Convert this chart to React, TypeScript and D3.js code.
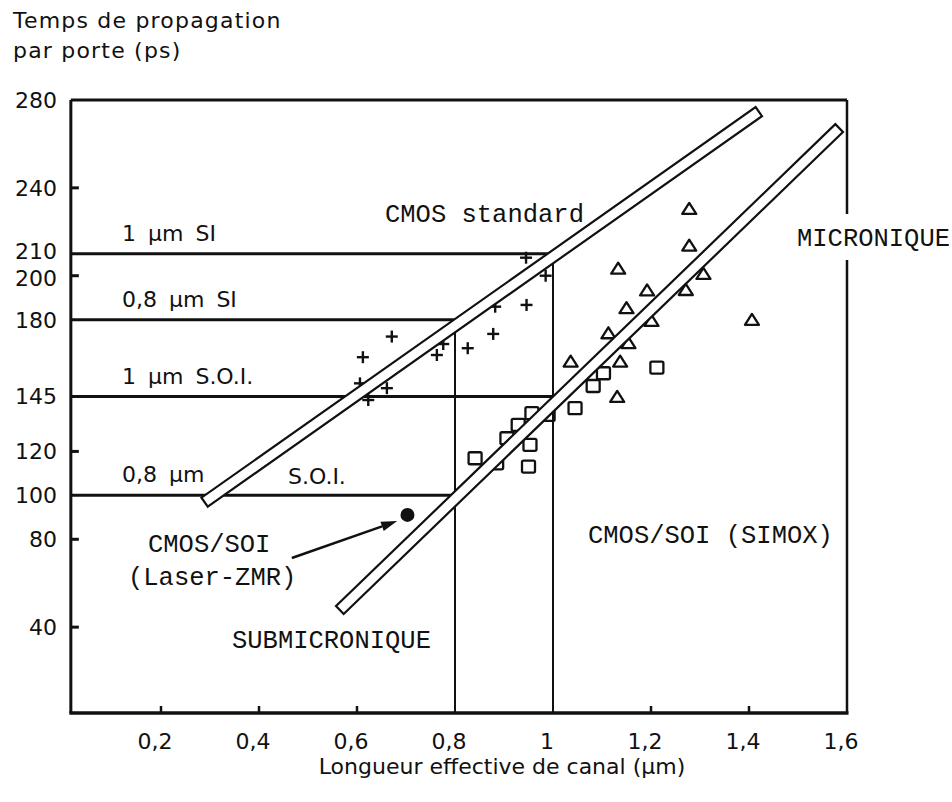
import React from "react";
import * as d3 from "d3";

// ---- Data ----
const xTickValues = [0.2, 0.4, 0.6, 0.8, 1.0, 1.2, 1.4, 1.6];
const xTickLabels = ["0,2", "0,4", "0,6", "0,8", "1", "1,2", "1,4", "1,6"];
const xMinorTicks = [0.2, 0.4, 0.6, 1.2, 1.4];
const yTickValues = [40, 80, 100, 120, 145, 180, 200, 210, 240, 280];
const yMinorTicks = [40, 80, 120, 200, 240];

// horizontal design rules: [delay ps, channel length limit µm]
const ruleDelays = [210, 180, 145, 100];
const ruleLimits = [1.0, 0.8, 1.0, 0.8];
const ruleLabels = ["1 µm SI", "0,8 µm SI", "1 µm S.O.I.", "0,8 µm"];

// CMOS standard (+)
const crossX = [0.612, 0.671, 0.606, 0.661, 0.623, 0.763, 0.776, 0.826, 0.878, 0.882, 0.946, 0.945, 0.985];
const crossY = [162.9, 172.3, 151.0, 148.8, 143.4, 163.9, 168.9, 167.0, 173.5, 185.9, 186.7, 208.2, 200.0];

// squares
const squareX = [0.841, 0.885, 0.95, 0.953, 0.906, 0.929, 0.957, 0.99, 1.045, 1.082, 1.103, 1.212];
const squareY = [116.9, 114.6, 113.1, 123.0, 126.0, 132.1, 137.4, 136.6, 139.7, 149.8, 155.6, 158.2];

// triangles
const triX = [1.278, 1.278, 1.133, 1.307, 1.192, 1.271, 1.15, 1.201, 1.406, 1.113, 1.154, 1.036, 1.137, 1.131];
const triY = [230.4, 213.7, 203.2, 200.8, 193.3, 193.5, 185.2, 179.4, 179.9, 173.8, 169.3, 160.9, 160.9, 144.8];

// Laser-ZMR point
const laserPoint = [0.703, 91.1];
const arrowTail = [0.467, 71.5];
const arrowHead = [0.682, 88.3];

// trend bands [x1, y1, x2, y2]
const bandStandard = [0.289, 96.9, 1.42, 274.7];
const bandSOI = [0.565, 47.8, 1.584, 267.2];

export default function App() {
  const W = 952, H = 802;
  const x = d3.scaleLinear().domain([0, 1.6]).range([63, 847]);
  const y = d3.scaleLinear().domain([0, 280]).range([715, 100]);

  const left = x(0.016);
  const right = x(1.6);
  const top = y(280);
  const bottom = y(0.9);

  const ink = "#111";
  const sans = "'DejaVu Sans', sans-serif";
  const mono = "'Liberation Mono', monospace";

  // y tick label positions, spread apart when too close
  const sortedTicks = [...yTickValues].sort((a, b) => a - b);
  const labelPos: Record<number, number> = {};
  sortedTicks.forEach((v) => (labelPos[v] = y(v)));
  const minGap = 27;
  for (let i = 1; i < sortedTicks.length; i++) {
    const lo = sortedTicks[i - 1], hi = sortedTicks[i];
    const gap = labelPos[lo] - labelPos[hi];
    if (gap < minGap) {
      const push = (minGap - gap) / 2;
      labelPos[lo] += push;
      labelPos[hi] -= push;
    }
  }

  const band = (b: number[]) => {
    const x1 = x(b[0]), y1 = y(b[1]), x2 = x(b[2]), y2 = y(b[3]);
    const dx = x2 - x1, dy = y2 - y1;
    const len = Math.hypot(dx, dy);
    const h = 5.5;
    const nx = (-dy / len) * h, ny = (dx / len) * h;
    const pts = [
      [x1 + nx, y1 + ny],
      [x2 + nx, y2 + ny],
      [x2 - nx, y2 - ny],
      [x1 - nx, y1 - ny],
    ];
    return pts.map((p) => p.join(",")).join(" ");
  };

  // arrow head geometry
  const ax1 = x(arrowTail[0]), ay1 = y(arrowTail[1]);
  const ax2 = x(arrowHead[0]), ay2 = y(arrowHead[1]);
  const ang = Math.atan2(ay2 - ay1, ax2 - ax1);
  const hl = 16, hw = 5;
  const bx = ax2 - hl * Math.cos(ang), by = ay2 - hl * Math.sin(ang);
  const headPts = [
    [ax2, ay2],
    [bx + hw * Math.sin(ang), by - hw * Math.cos(ang)],
    [bx - hw * Math.sin(ang), by + hw * Math.cos(ang)],
  ]
    .map((p) => p.join(","))
    .join(" ");

  return (
    <svg
      width={W}
      height={H}
      style={{ position: "absolute", left: 0, top: 0, background: "#fff" }}
    >
      <rect x={0} y={0} width={W} height={H} fill="#fff" />

      {/* Axis title (y) */}
      <text x={13} y={28} fontFamily={sans} fontSize={22} letterSpacing={1.2} fill={ink}>
        Temps de propagation
      </text>
      <text x={13} y={58} fontFamily={sans} fontSize={22} letterSpacing={1.2} fill={ink}>
        par porte (ps)
      </text>

      {/* y tick labels */}
      {yTickValues.map((v) => (
        <text
          key={"yt" + v}
          x={57}
          y={labelPos[v]}
          dy="0.36em"
          textAnchor="end"
          fontFamily={sans}
          fontSize={22}
          fill={ink}
        >
          {v}
        </text>
      ))}
      {yMinorTicks.map((v) => (
        <line key={"ym" + v} x1={left} x2={left + 8} y1={y(v)} y2={y(v)} stroke={ink} strokeWidth={3} />
      ))}

      {/* x tick labels */}
      {xTickValues.map((v, i) => (
        <text
          key={"xt" + v}
          x={x(v) - 6}
          y={749}
          textAnchor="middle"
          fontFamily={sans}
          fontSize={22}
          fill={ink}
        >
          {xTickLabels[i]}
        </text>
      ))}
      {xMinorTicks.map((v) => (
        <line key={"xm" + v} x1={x(v)} x2={x(v)} y1={bottom} y2={bottom - 7} stroke={ink} strokeWidth={2.5} />
      ))}

      <text x={502} y={774} textAnchor="middle" fontFamily={sans} fontSize={22} fill={ink}>
        Longueur effective de canal (µm)
      </text>

      {/* rule lines */}
      {ruleDelays.map((d, i) => (
        <line key={"rh" + d} x1={left} x2={x(ruleLimits[i])} y1={y(d)} y2={y(d)} stroke={ink} strokeWidth={3} />
      ))}
      <line x1={x(1.0)} x2={x(1.0)} y1={y(210)} y2={bottom} stroke={ink} strokeWidth={2} />
      <line x1={x(0.8)} x2={x(0.8)} y1={y(180)} y2={bottom} stroke={ink} strokeWidth={2} />

      {/* rule labels */}
      {ruleLabels.map((t, i) => (
        <text
          key={"rl" + i}
          x={122}
          y={y(ruleDelays[i]) - 13}
          fontFamily={sans}
          fontSize={22}
          wordSpacing={5}
          fill={ink}
        >
          {t}
        </text>
      ))}
      <text x={288} y={y(100) - 11} fontFamily={sans} fontSize={22} fill={ink}>
        S.O.I.
      </text>

      {/* frame */}
      <line x1={left} x2={left} y1={top} y2={bottom} stroke={ink} strokeWidth={3} />
      <line x1={left - 1.5} x2={right + 1.5} y1={bottom} y2={bottom} stroke={ink} strokeWidth={3.5} />
      <line x1={left} x2={right} y1={top} y2={top} stroke={ink} strokeWidth={3} />
      <line x1={right} x2={right} y1={top} y2={bottom} stroke={ink} strokeWidth={2.5} />

      {/* markers */}
      {crossX.map((cx, i) => {
        const px = x(cx), py = y(crossY[i]);
        return (
          <g key={"c" + i} stroke={ink} strokeWidth={2.4}>
            <line x1={px - 6} x2={px + 6} y1={py} y2={py} />
            <line x1={px} x2={px} y1={py - 6} y2={py + 6} />
          </g>
        );
      })}
      {squareX.map((sx, i) => (
        <rect
          key={"s" + i}
          x={x(sx) - 6.5}
          y={y(squareY[i]) - 6}
          width={13}
          height={12}
          rx={1.5}
          fill="none"
          stroke={ink}
          strokeWidth={2.3}
        />
      ))}
      {triX.map((tx, i) => {
        const px = x(tx), py = y(triY[i]);
        return (
          <polygon
            key={"t" + i}
            points={`${px},${py - 6} ${px + 7},${py + 5} ${px - 7},${py + 5}`}
            fill="none"
            stroke={ink}
            strokeWidth={2.3}
            strokeLinejoin="round"
          />
        );
      })}

      {/* trend bands */}
      <polygon points={band(bandStandard)} fill="#fff" stroke={ink} strokeWidth={2.2} strokeLinejoin="miter" />
      <polygon points={band(bandSOI)} fill="#fff" stroke={ink} strokeWidth={2.2} strokeLinejoin="miter" />

      {/* Laser-ZMR point and arrow */}
      <circle cx={x(laserPoint[0])} cy={y(laserPoint[1])} r={7} fill={ink} />
      <line x1={ax1} y1={ay1} x2={bx} y2={by} stroke={ink} strokeWidth={2.5} />
      <polygon points={headPts} fill={ink} />

      {/* monospace annotations */}
      <text x={385} y={222} fontFamily={mono} fontSize={25.5} fill={ink}>
        CMOS standard
      </text>
      <rect x={right - 8} y={214} width={20} height={46} fill="#fff" />
      <text x={797} y={246} fontFamily={mono} fontSize={25.5} fill={ink}>
        MICRONIQUE
      </text>
      <text x={588} y={543} fontFamily={mono} fontSize={25.5} fill={ink}>
        CMOS/SOI (SIMOX)
      </text>
      <text x={148} y={552} fontFamily={mono} fontSize={25.5} fill={ink}>
        CMOS/SOI
      </text>
      <text x={128} y={585} fontFamily={mono} fontSize={25.5} fill={ink}>
        (Laser-ZMR)
      </text>
      <text x={232} y={648} fontFamily={mono} fontSize={25.5} fill={ink}>
        SUBMICRONIQUE
      </text>
    </svg>
  );
}
